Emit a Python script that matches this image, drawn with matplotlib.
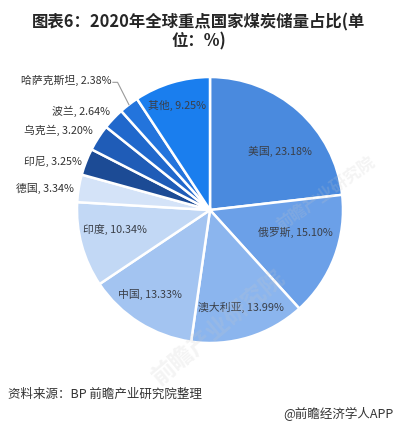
import matplotlib
matplotlib.use("Agg")
import matplotlib.pyplot as plt
import numpy as np

plt.rcParams['font.family'] = ['Noto Sans CJK SC', 'DejaVu Sans']

# ---- data ----
countries = ["美国", "俄罗斯", "澳大利亚", "中国", "印度", "德国", "印尼", "乌克兰", "波兰", "哈萨克斯坦", "其他"]
shares = [23.18, 15.10, 13.99, 13.33, 10.34, 3.34, 3.25, 3.20, 2.64, 2.38, 9.25]
title_text = "图表6：2020年全球重点国家煤炭储量占比(单\n位：%)"
source_text = "资料来源：BP 前瞻产业研究院整理"
brand_text = "@前瞻经济学人APP"

# ---- style ----
colors = ["#4a8ade", "#6ba0e8", "#8bb5ee", "#a3c4f1", "#c2d8f5", "#d4e3f8",
          "#1c4b95", "#1f5cb7", "#2068cc", "#2374dc", "#1a7eee"]
# (inside?, distance, angle offset deg)
label_style = [(True, 0.69, -8), (True, 0.66, 6.7), (True, 0.76, 1), (True, 0.77, -3.7),
               (True, 0.73, -4.5), (False, 1.04, 0), (False, 1.03, 0), (False, 1.07, -1.5),
               (False, 1.06, -1.5), (False, 1.23, 0), (True, 0.83, 0.8)]

W, H, DPI = 398, 431, 100
fig = plt.figure(figsize=(W / DPI, H / DPI), dpi=DPI)
fig.patch.set_facecolor("white")
ax = fig.add_axes([0, 0, 1, 1])

cx, cy, R = 210, 211, 133  # pixel centre / radius of pie
wedges, _ = ax.pie(shares, colors=colors, startangle=90, counterclock=False,
                   wedgeprops=dict(edgecolor="white", linewidth=1.8))
ax.set_xlim(-cx / R, (W - cx) / R)
ax.set_ylim(-(H - cy) / R, cy / R)
ax.axis("off")

for w, name, val, (inside, d, off) in zip(wedges, countries, shares, label_style):
    mid = (w.theta1 + w.theta2) / 2.0 + off
    a = np.deg2rad(mid)
    x, y = d * np.cos(a), d * np.sin(a)
    txt = f"{name}, {val:.2f}%"
    if inside:
        ax.text(x, y, txt, ha="center", va="center", fontsize=7.8, color="#3a3f48")
    else:
        if name == "哈萨克斯坦":
            am = np.deg2rad((w.theta1 + w.theta2) / 2.0)
            x0, y0 = 1.0 * np.cos(am), 1.0 * np.sin(am)
            x1, y1 = -0.695, 0.96
            x2 = -0.73
            ax.plot([x0, x1, x2], [y0, y1, y1], color="#9a9a9a", lw=0.8)
            ax.text(x2 - 0.01, y1 + 0.02, txt, ha="right", va="center", fontsize=7.8, color="#333333")
        else:
            ax.text(x, y, txt, ha="right", va="center", fontsize=7.8, color="#333333")

# faint watermarks
for (wx, wy, rot, fs) in [(0.55, 0.24, 40, 17), (0.82, 0.55, 35, 12)]:
    fig.text(wx, wy, "前瞻产业研究院", fontsize=fs, color="#c8c8c8", alpha=0.2,
             rotation=rot, ha="center", va="center", fontweight="bold")

fig.text(0.5, 1 - 32 / H, title_text, ha="center", va="center", fontsize=11.8,
         fontweight="bold", color="#262626", linespacing=1.05)
fig.text(8 / W, 1 - 394 / H, source_text, ha="left", va="center", fontsize=9, color="#333333")
fig.text(393 / W, 1 - 414 / H, brand_text, ha="right", va="center", fontsize=9, color="#333333")

fig.savefig("out.png", dpi=DPI, facecolor="white")
